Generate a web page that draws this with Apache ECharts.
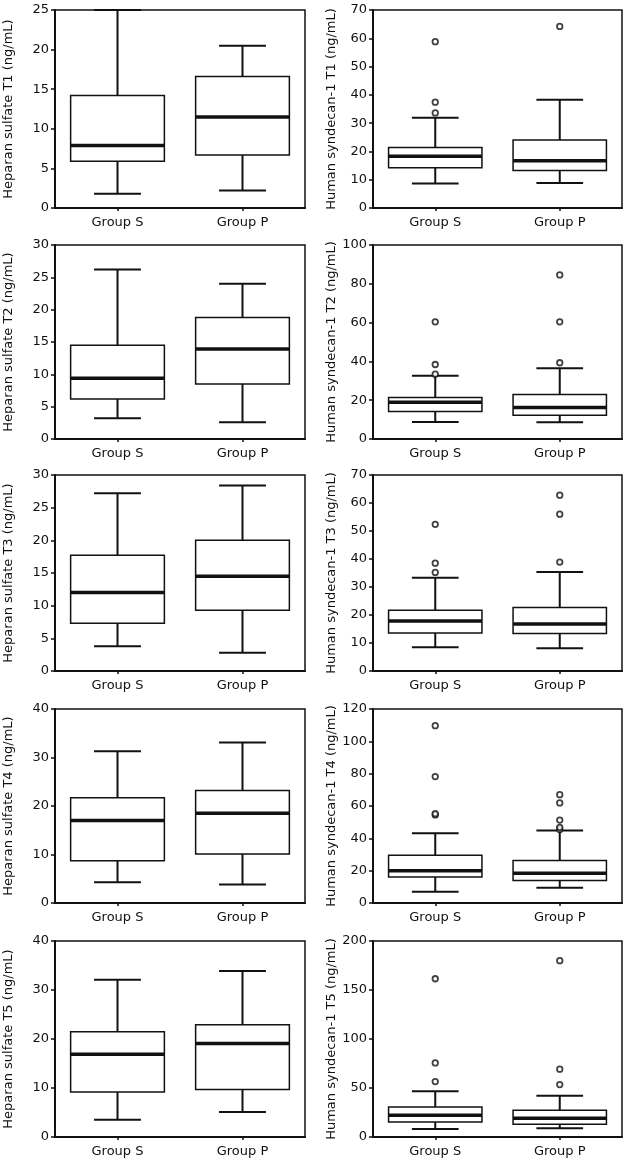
<!DOCTYPE html>
<html>
<head>
<meta charset="utf-8">
<script src="https://cdn.jsdelivr.net/npm/echarts@6/dist/echarts.min.js"></script>
<style>
html,body{margin:0;padding:0;background:#fff;}
#chart{width:632px;height:1164px;}
</style>
</head>
<body>
<div id="chart"></div>
<script>
// ---- Data ----
const categories = ['Group S', 'Group P'];

const panelNames = [
  'Heparan sulfate T1 (ng/mL)', 'Human syndecan-1 T1 (ng/mL)',
  'Heparan sulfate T2 (ng/mL)', 'Human syndecan-1 T2 (ng/mL)',
  'Heparan sulfate T3 (ng/mL)', 'Human syndecan-1 T3 (ng/mL)',
  'Heparan sulfate T4 (ng/mL)', 'Human syndecan-1 T4 (ng/mL)',
  'Heparan sulfate T5 (ng/mL)', 'Human syndecan-1 T5 (ng/mL)'
];
const yMaxes = [25, 70, 30, 100, 30, 70, 40, 120, 40, 200];
const yIntervals = [5, 10, 5, 20, 5, 10, 10, 20, 10, 50];

// [min, Q1, median, Q3, max] for Group S, Group P
const hsT1 = [[1.8, 5.9, 7.9, 14.2, 25.0], [2.2, 6.7, 11.5, 16.6, 20.5]];
const hs1T1 = [[8.7, 14.2, 18.3, 21.4, 31.9], [8.8, 13.3, 16.7, 24.0, 38.3]];
const hsT2 = [[3.2, 6.2, 9.4, 14.5, 26.2], [2.6, 8.5, 13.9, 18.8, 24.0]];
const hs1T2 = [[8.7, 14.2, 19.0, 21.4, 32.6], [8.6, 12.3, 16.3, 23.0, 36.5]];
const hsT3 = [[3.8, 7.3, 12.0, 17.7, 27.2], [2.8, 9.3, 14.5, 20.0, 28.4]];
const hs1T3 = [[8.5, 13.6, 17.9, 21.7, 33.3], [8.1, 13.4, 16.8, 22.7, 35.4]];
const hsT4 = [[4.3, 8.7, 17.0, 21.7, 31.3], [3.8, 10.1, 18.5, 23.2, 33.1]];
const hs1T4 = [[7.0, 16.1, 19.9, 29.6, 43.2], [9.5, 13.9, 18.4, 26.3, 44.9]];
const hsT5 = [[3.5, 9.2, 16.9, 21.5, 32.1], [5.1, 9.7, 19.1, 22.9, 33.9]];
const hs1T5 = [[8.2, 15.3, 22.1, 30.7, 46.7], [8.9, 12.9, 19.1, 27.3, 42.2]];

// outliers for Group S, Group P
const hsT1Out = [[], []];
const hs1T1Out = [[33.6, 37.4, 58.8], [64.2]];
const hsT2Out = [[], []];
const hs1T2Out = [[33.4, 38.4, 60.4], [39.3, 60.4, 84.6]];
const hsT3Out = [[], []];
const hs1T3Out = [[35.2, 38.5, 52.4], [38.9, 56.0, 62.8]];
const hsT4Out = [[], []];
const hs1T4Out = [[54.5, 55.2, 78.2, 109.7], [45.5, 46.8, 51.3, 61.9, 67.0]];
const hsT5Out = [[], []];
const hs1T5Out = [[56.6, 75.6, 161.5], [53.5, 69.2, 179.9]];

const boxSets = [hsT1, hs1T1, hsT2, hs1T2, hsT3, hs1T3, hsT4, hs1T4, hsT5, hs1T5];
const outSets = [hsT1Out, hs1T1Out, hsT2Out, hs1T2Out, hsT3Out, hs1T3Out, hsT4Out, hs1T4Out, hsT5Out, hs1T5Out];

// ---- Layout ----
const rowTops = [10, 245, 475, 709, 941];
const rowBottoms = [208, 439, 671, 903, 1137];
const colLefts = [55, 373];
const colWidths = [250, 249];

const FONT = 'DejaVu Sans';
const INK = '#111';

const grids = [], xAxes = [], yAxes = [], series = [];
for (let i = 0; i < 10; i++) {
  const r = Math.floor(i / 2), c = i % 2;
  grids.push({
    left: colLefts[c], width: colWidths[c],
    top: rowTops[r], height: rowBottoms[r] - rowTops[r],
    show: true, borderColor: INK, borderWidth: 1.5, backgroundColor: '#fff'
  });
  xAxes.push({
    type: 'category', gridIndex: i, data: categories,
    axisLine: { lineStyle: { color: INK, width: 2 } },
    axisTick: { show: true, alignWithLabel: true, length: 3, lineStyle: { color: INK, width: 1.5 } },
    axisLabel: { color: INK, fontFamily: FONT, fontSize: 13, margin: 8 },
    splitLine: { show: false }
  });
  yAxes.push({
    type: 'value', gridIndex: i, min: 0, max: yMaxes[i], interval: yIntervals[i],
    name: panelNames[i], nameLocation: 'middle',
    nameGap: c === 0 ? 40 : 35,
    nameTextStyle: { color: INK, fontFamily: FONT, fontSize: 13 },
    axisLine: { show: true, lineStyle: { color: INK, width: 2 } },
    axisTick: { show: true, length: 4, lineStyle: { color: INK, width: 1.5 } },
    axisLabel: { color: INK, fontFamily: FONT, fontSize: 13, margin: 6 },
    splitLine: { show: false }
  });
  const boxData = boxSets[i].map((v, k) => [k].concat(v));
  series.push({
    type: 'custom', xAxisIndex: i, yAxisIndex: i,
    encode: { x: 0, y: [1, 2, 3, 4, 5] },
    data: boxData,
    renderItem: function (params, api) {
      const x = api.value(0);
      const band = api.size([1, 0])[0];
      const bw = band * 0.75, cw = band * 0.375;
      const pMin = api.coord([x, api.value(1)]);
      const pQ1 = api.coord([x, api.value(2)]);
      const pMed = api.coord([x, api.value(3)]);
      const pQ3 = api.coord([x, api.value(4)]);
      const pMax = api.coord([x, api.value(5)]);
      const cx = pMed[0];
      const st = { stroke: INK, lineWidth: 2, fill: null };
      return {
        type: 'group',
        children: [
          { type: 'line', shape: { x1: cx, y1: pQ3[1], x2: cx, y2: pMax[1] }, style: st },
          { type: 'line', shape: { x1: cx, y1: pMin[1], x2: cx, y2: pQ1[1] }, style: st },
          { type: 'line', shape: { x1: cx - cw / 2, y1: pMax[1], x2: cx + cw / 2, y2: pMax[1] }, style: st },
          { type: 'line', shape: { x1: cx - cw / 2, y1: pMin[1], x2: cx + cw / 2, y2: pMin[1] }, style: st },
          { type: 'rect', shape: { x: cx - bw / 2, y: pQ3[1], width: bw, height: pQ1[1] - pQ3[1] },
            style: { stroke: INK, lineWidth: 1.5, fill: '#fff' } },
          { type: 'line', shape: { x1: cx - bw / 2, y1: pMed[1], x2: cx + bw / 2, y2: pMed[1] },
            style: { stroke: INK, lineWidth: 3.5 } }
        ]
      };
    },
    z: 2
  });
  const outData = [];
  outSets[i].forEach((arr, k) => arr.forEach(v => outData.push([k, v])));
  series.push({
    type: 'scatter', xAxisIndex: i, yAxisIndex: i,
    data: outData, symbol: 'circle', symbolSize: 5.5,
    itemStyle: { color: '#fff', borderColor: INK, borderWidth: 1.8 },
    z: 3
  });
}

const chart = echarts.init(document.getElementById('chart'), null, { renderer: 'canvas' });
chart.setOption({
  animation: false,
  backgroundColor: '#fff',
  grid: grids, xAxis: xAxes, yAxis: yAxes, series: series
});
</script>
</body>
</html>
